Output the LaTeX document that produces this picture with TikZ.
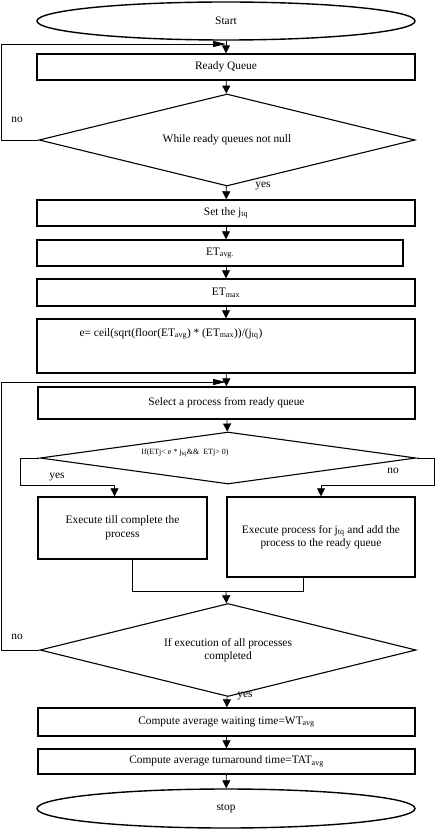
\documentclass[tikz,border=0pt]{standalone}
\usepackage{fontspec}
\setmainfont{Liberation Serif}
\usetikzlibrary{shapes.geometric,arrows.meta}

\begin{document}
\begin{tikzpicture}[x=1pt,y=-1pt,
  font=\fontsize{11.4}{13.5}\selectfont,
  box/.style={draw,line width=1.4pt,minimum width=378pt,minimum height=26pt,inner sep=0pt},
  term/.style={draw,ellipse,line width=1.4pt,minimum width=378pt,minimum height=38pt,inner sep=0pt},
  test/.style={draw,diamond,aspect=5,line width=1.1pt,minimum width=376pt,inner sep=0pt},
  flow/.style={line width=0.8pt,-{Triangle[length=8pt,width=8pt]}},
  back/.style={line width=0.8pt,-{Triangle[length=13pt,width=6pt]}},
  link/.style={line width=0.8pt}]
\useasboundingbox (0,0) rectangle (435,829);

% steps, top to bottom
\node[term] (start) at (226,21) {Start};
\node[box] (ready) at (226,67) {Ready Queue};
\node[test,minimum height=92pt] (while) at (227,140) {While ready queues not null};
\node[box] (settq) at (226,213) {Set the j\textsubscript{tq}};
\node[box,minimum width=366pt] (etavg) at (220,253) {ET\textsubscript{avg.}};
\node[box,minimum height=27pt] (etmax) at (226,292.5) {ET\textsubscript{max}};
\node[box,minimum height=54pt] (efor) at (226,346) {};
\node (etext) at (171,334) {e= ceil(sqrt(floor(ET\textsubscript{avg}) * (ET\textsubscript{max}))/(j\textsubscript{tq})};
\node[box,minimum width=377pt,minimum height=32pt] (select) at (226.5,403) {Select a process from ready queue};
\node[test,minimum height=52pt] (cond) at (228,458) {};
\node[font=\fontsize{8}{10}\selectfont] (ctext) at (185,453) {If(ETj< e * j\textsubscript{tq}\&\&\ \ ETj> 0)};
\node[box,minimum width=169pt,minimum height=62pt,align=center] (done) at (122.5,528)
  {Execute till complete the\\process};
\node[box,minimum width=188pt,minimum height=80pt,align=center] (requeue) at (321,537)
  {Execute process for j\textsubscript{tq} and add the\\process to the ready queue};
\node[test,minimum height=93pt,align=center] (alldone) at (228,650)
  {If execution of all processes\\completed};
\node[box,minimum width=377pt,minimum height=28pt] (wt) at (226.5,722) {Compute average waiting time=WT\textsubscript{avg}};
\node[box,minimum width=377pt,minimum height=25pt] (tat) at (226.5,761.5) {Compute average turnaround time=TAT\textsubscript{avg}};
\node[term,minimum height=39pt] (stop) at (226,808.5) {stop};

% join points
\coordinate (in1) at (226,44);
\coordinate (in2) at (226,382);
\coordinate (merge) at (226,591);

% connectors
\draw[flow] (start) -- (ready);
\draw[flow] (ready) -- (while);
\draw[back] (while.west) -| (1,44) -- (in1);
\draw[flow] (while) -- (settq);
\draw[flow] (settq.south) -- (settq.south |- etavg.north);
\draw[flow] (etmax.north |- etavg.south) -- (etmax);
\draw[flow] (etmax) -- (efor);
\draw[flow] (efor) -- (select);
\draw[back] (alldone.west) -| (1,382) -- (in2);
\draw[flow] (select) -- (cond);
\draw[flow] (cond.west) -| (20,485) -| ([xshift=-8pt]done.north);
\draw[flow] (cond.east) -| (434,485) -| (requeue.north);
\draw[link] ([xshift=10pt]done.south) |- ([xshift=-18pt]requeue.south |- merge) -- ([xshift=-18pt]requeue.south);
\draw[flow] (merge) -- (alldone);
\draw[flow] (alldone) -- (wt);
\draw[flow] (wt) -- (tat);
\draw[flow] (tat) -- (stop);

% branch labels
\node (no1) at (17,120) {no};
\node (yes1) at (263,186) {yes};
\node (yes2) at (57,477) {yes};
\node (no2) at (393,471) {no};
\node (no3) at (17,637) {no};
\node (yes3) at (245,696) {yes};
\end{tikzpicture}
\end{document}
